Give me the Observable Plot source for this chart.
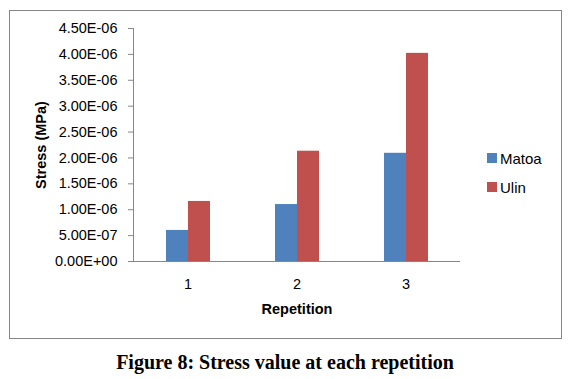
<!DOCTYPE html>
<html>
<head>
<meta charset="utf-8">
<script src="https://cdn.jsdelivr.net/npm/d3@7"></script>
<script src="https://cdn.jsdelivr.net/npm/@observablehq/plot@0.6"></script>
<style>
  body { margin: 0; background: #fff; }
  #wrap { position: relative; width: 570px; height: 379px; font-family: "Liberation Sans", Arial, sans-serif; }
  #border { position: absolute; left: 9px; top: 10px; width: 551px; height: 327px; border: 1px solid #868686; }
  #legend { position: absolute; left: 487px; top: 147px; font-size: 15px; color: #000; }
  #legend .item { display: flex; align-items: center; height: 22px; margin-bottom: 7px; }
  #legend .sw { width: 10px; height: 10px; margin-right: 3px; }
  #caption { position: absolute; left: 0; width: 570px; top: 351px; line-height: 23px; text-align: center;
    font-family: "Liberation Serif", "Times New Roman", serif; font-weight: bold; font-size: 20px; color: #000; }
  #chart { position: absolute; left: 0; top: 0; }
</style>
</head>
<body>
<div id="wrap">
  <div id="border"></div>
  <div id="chart"></div>
  <div id="legend"></div>
  <div id="caption">Figure 8: Stress value at each repetition</div>
</div>
<script>
const repetitions = ["1", "2", "3"];
const series = ["Matoa", "Ulin"];
const matoa = [6.0e-7, 1.10e-6, 2.09e-6];
const ulin = [1.16e-6, 2.13e-6, 4.02e-6];
const colors = ["#4F81BD", "#C0504D"];
const yTicks = [0, 5e-7, 1e-6, 1.5e-6, 2e-6, 2.5e-6, 3e-6, 3.5e-6, 4e-6, 4.5e-6];

const data = [];
repetitions.forEach((r, i) => {
  data.push({rep: r, series: "Matoa", value: matoa[i]});
  data.push({rep: r, series: "Ulin", value: ulin[i]});
});

function fmt(d) {
  const [m, e] = d.toExponential(2).split("e");
  const sign = e[0];
  const digits = e.slice(1).padStart(2, "0");
  return m + "E" + sign + digits;
}

const chart = Plot.plot({
  width: 570,
  height: 340,
  marginLeft: 133,
  marginRight: 110,
  marginTop: 28,
  marginBottom: 79,
  style: {fontFamily: "'Liberation Sans', Arial, sans-serif", fontSize: "14.5px", color: "#000", background: "transparent"},
  fx: {domain: repetitions, padding: 0},
  x: {domain: series, paddingInner: 0, paddingOuter: 1.477, axis: null},
  y: {domain: [0, 4.5e-6]},
  color: {domain: series, range: colors},
  marks: [
    Plot.barY(data, {fx: "rep", x: "series", y: "value", fill: "series"}),
    Plot.ruleY([0], {stroke: "#868686", strokeWidth: 1}),
    Plot.frame({anchor: "left", facetAnchor: "left", stroke: "#868686"}),
    Plot.axisY({ticks: yTicks, tickFormat: fmt, tickSize: 5, tickPadding: 11, stroke: "#868686", label: null}),
    Plot.axisY({ticks: [], label: "Stress (MPa)", labelAnchor: "center", labelOffset: 98, labelArrow: "none", fontWeight: "bold"}),
    Plot.axisFx({anchor: "bottom", tickSize: 0, tickPadding: 17, label: null}),
    Plot.axisFx({anchor: "bottom", ticks: [], label: "Repetition", labelAnchor: "center", labelOffset: 52, fontWeight: "bold"})
  ]
});
document.getElementById("chart").appendChild(chart);

const legend = document.getElementById("legend");
series.forEach((s, i) => {
  const item = document.createElement("div");
  item.className = "item";
  item.innerHTML = `<div class="sw" style="background:${colors[i]}"></div><span>${s}</span>`;
  legend.appendChild(item);
});
</script>
</body>
</html>
